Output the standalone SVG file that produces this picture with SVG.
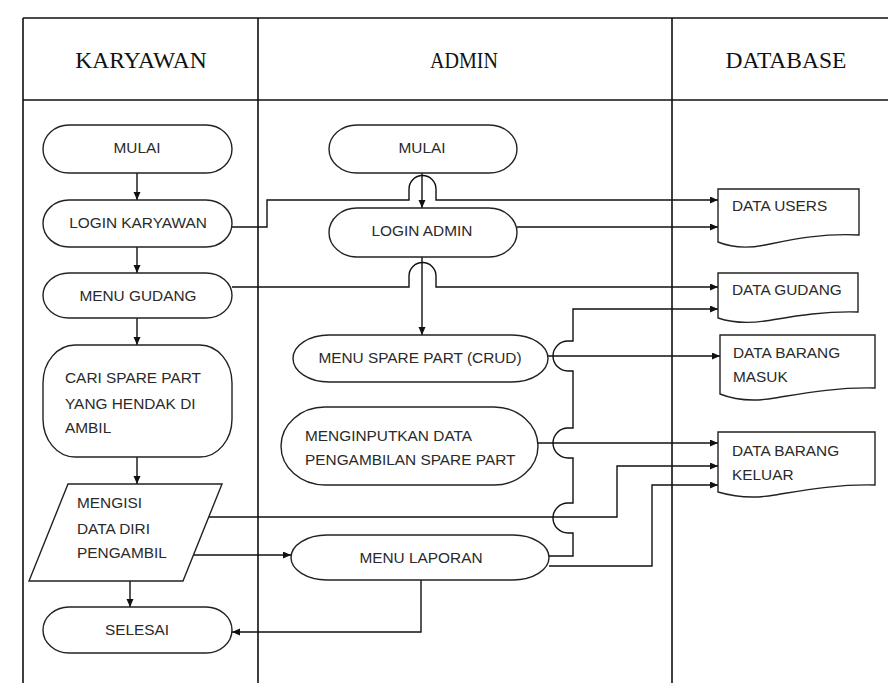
<svg xmlns="http://www.w3.org/2000/svg" width="888" height="683" viewBox="0 0 888 683">
<defs>
<marker id="arr" markerUnits="userSpaceOnUse" markerWidth="9" markerHeight="8" refX="8" refY="3.5" orient="auto"><path d="M0,0 L8,3.5 L0,7 z" fill="#111"/></marker>
<style>
.lane{stroke:#111;stroke-width:1.6;fill:none}
.sh{fill:#fff;stroke:#222;stroke-width:1.4}
.t{font-family:"Liberation Sans",Arial,sans-serif;font-size:15.4px;fill:#2a2a2a}
.h{font-family:"Liberation Serif","Times New Roman",serif;font-size:23.5px;fill:#111;text-anchor:middle}
.c{text-anchor:middle}
.ln{fill:none;stroke:#111;stroke-width:1.4}
.ar{marker-end:url(#arr)}
</style>
</defs>
<rect width="888" height="683" fill="#fff"/>
<g id="table">
<path class="lane" d="M23,18 H888 M23,18 V683 M23,100 H888 M258,18 V683 M672,18 V683"/>
<text class="h" x="141" y="68">KARYAWAN</text>
<text class="h" x="464" y="68" textLength="68" lengthAdjust="spacingAndGlyphs">ADMIN</text>
<text class="h" x="786" y="68">DATABASE</text>
</g>
<g id="connectors">
<path class="ln ar" d="M137,173 V200"/>
<path class="ln ar" d="M137,247 V273"/>
<path class="ln ar" d="M137,318 V345"/>
<path class="ln ar" d="M137,457 V484"/>
<path class="ln ar" d="M130,581 V607"/>
<path class="ln ar" d="M422,173 V208"/>
<path class="ln ar" d="M422,257 V335"/>
<path class="ln ar" d="M232,227 H267 V200 H409 V189 A13.5,13.5 0 0 1 436,189 V200 H718"/>
<path class="ln ar" d="M517,227 H718"/>
<path class="ln ar" d="M232,287 H409 V276 A13.5,13.5 0 0 1 436,276 V287 H718"/>
<path class="ln ar" d="M549,556 H573 V533 H568 A15,15 0 0 1 568,503 H573 V458 H568 A15,15 0 0 1 568,428 H573 V371 H568 A15,15 0 0 1 568,341 H573 V309 H718"/>
<path class="ln ar" d="M548,356 H720"/>
<path class="ln ar" d="M538,443 H718"/>
<path class="ln ar" d="M208,517 H617 V466 H718"/>
<path class="ln ar" d="M549,566 H652 V485 H718"/>
<path class="ln ar" d="M193,555 H291"/>
<path class="ln ar" d="M421,580 V632 H232"/>
</g>
<g id="k_mulai"><rect class="sh" x="43" y="125" width="189" height="48" rx="26" ry="24"/><text class="t c" x="137" y="153">MULAI</text></g>
<g id="k_login"><rect class="sh" x="43" y="200" width="189" height="47" rx="26" ry="23.5"/><text class="t c" x="138" y="228">LOGIN KARYAWAN</text></g>
<g id="k_menu_gudang"><rect class="sh" x="43" y="273" width="189" height="45" rx="26" ry="22.5"/><text class="t c" x="138" y="301">MENU GUDANG</text></g>
<g id="k_cari"><rect class="sh" x="43" y="345" width="189" height="112" rx="32" ry="38"/><text class="t" x="65" y="383">CARI SPARE PART</text><text class="t" x="65" y="409">YANG HENDAK DI</text><text class="t" x="65" y="433">AMBIL</text></g>
<g id="k_mengisi"><polygon class="sh" points="68,484 222,484 183,581 29,581"/><text class="t" x="77" y="508">MENGISI</text><text class="t" x="77" y="534">DATA DIRI</text><text class="t" x="77" y="558">PENGAMBIL</text></g>
<g id="k_selesai"><rect class="sh" x="43" y="607" width="189" height="46" rx="26" ry="23"/><text class="t c" x="137" y="635">SELESAI</text></g>
<g id="a_mulai"><rect class="sh" x="329" y="125" width="188" height="48" rx="28" ry="24"/><text class="t c" x="422" y="153">MULAI</text></g>
<g id="a_login"><rect class="sh" x="329" y="208" width="188" height="49" rx="28" ry="24.5"/><text class="t c" x="422" y="236">LOGIN ADMIN</text></g>
<g id="a_menu_spare"><rect class="sh" x="293" y="335" width="255" height="47" rx="36" ry="23.5"/><text class="t c" x="420" y="363">MENU SPARE PART (CRUD)</text></g>
<g id="a_input"><rect class="sh" x="281" y="407" width="257" height="78" rx="44" ry="39"/><text class="t" x="305" y="441">MENGINPUTKAN DATA</text><text class="t" x="305" y="465">PENGAMBILAN SPARE PART</text></g>
<g id="a_laporan"><rect class="sh" x="291" y="535" width="258" height="45" rx="36" ry="22.5"/><text class="t c" x="421" y="563">MENU LAPORAN</text></g>
<g id="d_users"><path class="sh" d="M718,189 H859 V235 C820,233 790,240 765,245 C745,249 730,247 718,242 Z"/><text class="t" x="732" y="211">DATA USERS</text></g>
<g id="d_gudang"><path class="sh" d="M718,273 H858 V312 C820,311 790,317 765,321 C745,324 730,322 718,318 Z"/><text class="t" x="732" y="295">DATA GUDANG</text></g>
<g id="d_masuk"><path class="sh" d="M720,335 H875 V388 C835,387 800,394 775,398 C752,402 735,400 720,394 Z"/><text class="t" x="733" y="358">DATA BARANG</text><text class="t" x="733" y="382">MASUK</text></g>
<g id="d_keluar"><path class="sh" d="M718,432 H875 V485 C835,484 800,491 775,495 C752,499 735,497 718,492 Z"/><text class="t" x="732" y="456">DATA BARANG</text><text class="t" x="732" y="480">KELUAR</text></g>
</svg>
